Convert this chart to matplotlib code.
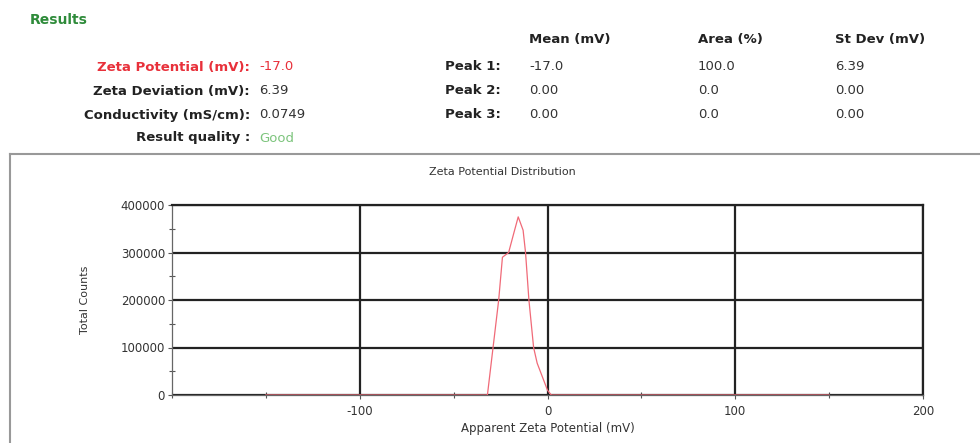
import matplotlib.pyplot as plt
from matplotlib.lines import Line2D
from matplotlib.ticker import MultipleLocator

# zeta potential distribution
zeta_mv = [-150, -32, -29, -26, -24, -20.7, -18, -15.6, -13, -11.7, -9.9, -7.4, -5.5, 0, 2, 150]
counts = [0, 0, 100000, 200000, 290000, 300000, 340000, 375000, 347000, 300000,
          200000, 100000, 67000, 10000, 0, 0]

x_ticks = [-100, 0, 100, 200]
y_ticks = [0, 100000, 200000, 300000, 400000]

summary_labels = ['Zeta Potential (mV):', 'Zeta Deviation (mV):',
                  'Conductivity (mS/cm):', 'Result quality :']
summary_values = ['-17.0', '6.39', '0.0749', 'Good']

peak_headers = ['Mean (mV)', 'Area (%)', 'St Dev (mV)']
peak_names = ['Peak 1:', 'Peak 2:', 'Peak 3:']
peak_mean = ['-17.0', '0.00', '0.00']
peak_area = ['100.0', '0.0', '0.0']
peak_sd = ['6.39', '0.00', '0.00']

W, H = 980, 443
fig = plt.figure(figsize=(W / 100, H / 100), dpi=100)


def fx(px):
    return px / W


def fy(py):
    return 1 - py / H


red = '#e8303a'
green = '#2e8b3a'
light_green = '#7cc47c'
txt = '#222222'
fs = 9.5

# header block
fig.text(fx(30), fy(20), 'Results', color=green, fontsize=10, fontweight='bold', va='center')

label_colors = [red, txt, txt, txt]
value_colors = [red, '#333333', '#333333', light_green]
row_y = [67, 91, 115, 138]
for lab, val, lc, vc, yy in zip(summary_labels, summary_values, label_colors, value_colors, row_y):
    fig.text(fx(250), fy(yy), lab, color=lc, fontsize=fs, fontweight='bold', ha='right', va='center')
    fig.text(fx(259), fy(yy), val, color=vc, fontsize=fs, ha='left', va='center')

col_x = [529, 698, 835]
for hdr, cx in zip(peak_headers, col_x):
    fig.text(fx(cx), fy(40), hdr, color=txt, fontsize=fs, fontweight='bold', va='center')
for i, name in enumerate(peak_names):
    yy = row_y[i]
    fig.text(fx(445), fy(yy), name, color=txt, fontsize=fs, fontweight='bold', va='center')
    for val, cx in zip([peak_mean[i], peak_area[i], peak_sd[i]], col_x):
        fig.text(fx(cx), fy(yy), val, color='#333333', fontsize=fs, va='center')

# outer frame of the plot panel
fig.add_artist(Line2D([fx(10), fx(10)], [fy(154), fy(443)], color='#999999', lw=1.5))
fig.add_artist(Line2D([fx(10), fx(980)], [fy(154), fy(154)], color='#999999', lw=1.5))

fig.text(fx(502), fy(172), 'Zeta Potential Distribution', color='#333333', fontsize=8,
         ha='center', va='center')

ax = fig.add_axes([fx(172), fy(395), fx(923 - 172), (395 - 205) / H])
ax.plot(zeta_mv, counts, color='#f06a78', lw=0.9, zorder=3)

ax.set_xlim(-200, 200)
ax.set_ylim(0, 400000)
ax.set_xticks(x_ticks)
ax.set_yticks(y_ticks)
ax.xaxis.set_minor_locator(MultipleLocator(50))
ax.yaxis.set_minor_locator(MultipleLocator(50000))
ax.set_xticklabels([str(v) for v in x_ticks])
ax.set_yticklabels([str(v) for v in y_ticks])
ax.tick_params(which='major', direction='out', length=3, width=0.8, color='#555555',
               labelsize=8.5, labelcolor='#333333', pad=2)
ax.tick_params(which='minor', direction='inout', length=5, width=0.8, color='#555555')
ax.tick_params(axis='x', which='major', pad=4)

ax.grid(True, which='major', color='#222222', lw=1.6)
for side in ['top', 'right']:
    ax.spines[side].set_color('#222222')
    ax.spines[side].set_linewidth(1.6)
for side in ['left', 'bottom']:
    ax.spines[side].set_color('#666666')
    ax.spines[side].set_linewidth(0.9)

ax.set_xlabel('Apparent Zeta Potential (mV)', fontsize=8.5, color='#333333', labelpad=3)
ax.set_ylabel('Total Counts', fontsize=8, color='#333333', labelpad=22)

fig.savefig('out.png', dpi=100, facecolor='white')
